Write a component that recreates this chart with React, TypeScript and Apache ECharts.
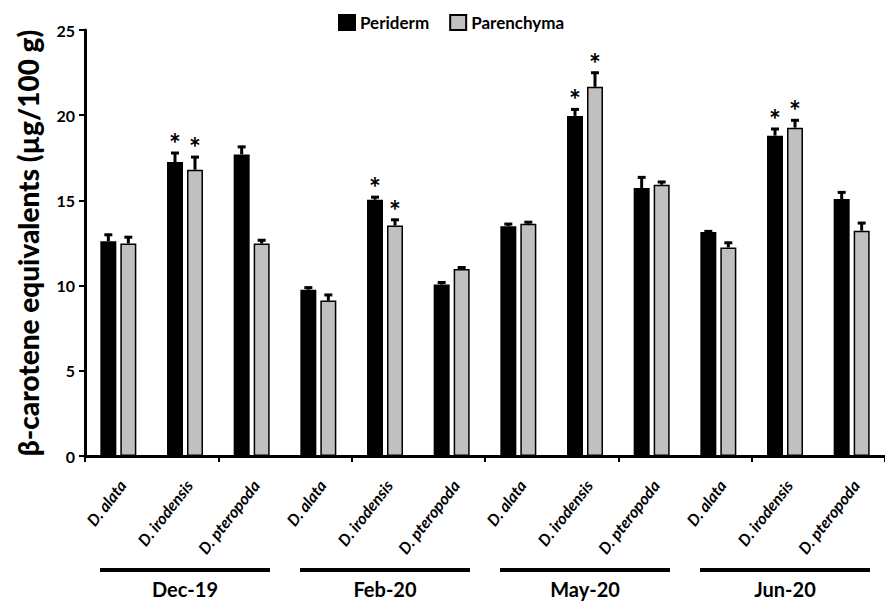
import React, { useEffect, useRef } from "react";
import * as echarts from "echarts";

const months = ["Dec-19", "Feb-20", "May-20", "Jun-20"];
const species = ["D. alata", "D. irodensis", "D. pteropoda"];
const yTicks = { min: 0, max: 25, interval: 5 };

const peridermValues = [12.6, 17.25, 17.7, 9.76, 15.04, 10.06, 13.49, 19.96, 15.73, 13.14, 18.8, 15.08];
const peridermErrors = [0.44, 0.59, 0.5, 0.18, 0.21, 0.18, 0.18, 0.44, 0.68, 0.1, 0.45, 0.45];
const parenchymaValues = [12.47, 16.8, 12.47, 9.12, 13.53, 10.98, 13.63, 21.67, 15.92, 12.24, 19.27, 13.22];
const parenchymaErrors = [0.43, 0.8, 0.25, 0.39, 0.39, 0.14, 0.15, 0.88, 0.22, 0.33, 0.49, 0.51];
const peridermSignificant = [0, 1, 0, 0, 1, 0, 0, 1, 0, 0, 1, 0];
const parenchymaSignificant = [0, 1, 0, 0, 1, 0, 0, 1, 0, 0, 1, 0];

const FONT = "Lato";

function errorSeries(values: number[], errors: number[], sig: number[], side: number) {
  return {
    type: "custom",
    xAxisIndex: 0,
    yAxisIndex: 0,
    z: 5,
    silent: true,
    data: values.map((v, i) => [i, v, errors[i], sig[i]]),
    encode: { x: 0, y: 1 },
    renderItem: (params: any, api: any) => {
      const idx = api.value(0);
      const v = api.value(1);
      const e = api.value(2);
      const s = api.value(3);
      const base = api.coord([idx, v]);
      const top = api.coord([idx, v + e]);
      const band = api.size([1, 0])[0];
      const x = base[0] + side * 0.15 * band;
      const children: any[] = [
        {
          type: "line",
          shape: { x1: x, y1: base[1], x2: x, y2: top[1] },
          style: { stroke: "#000", lineWidth: 3 },
        },
        {
          type: "line",
          shape: { x1: x - 4, y1: top[1] + 1, x2: x + 4, y2: top[1] + 1 },
          style: { stroke: "#000", lineWidth: 3 },
        },
      ];
      if (s) {
        children.push({
          type: "text",
          x: x,
          y: top[1] + 5,
          style: {
            text: "*",
            fontSize: 28,
            fontWeight: "bold",
            fontFamily: FONT,
            fill: "#000",
            align: "center",
            verticalAlign: "bottom",
          },
        });
      }
      return { type: "group", children };
    },
  };
}

export default function App() {
  const ref = useRef<HTMLDivElement>(null);
  useEffect(() => {
    if (!ref.current) return;
    const chart = echarts.init(ref.current, null, { renderer: "svg" });
    const categories = months.flatMap(() => species);
    const option: any = {
      animation: false,
      backgroundColor: "#fff",
      textStyle: { fontFamily: FONT },
      legend: {
        top: 9,
        left: 333,
        icon: "rect",
        itemWidth: 16,
        itemHeight: 15,
        itemGap: 20,
        textStyle: { fontSize: 17, fontWeight: "bold", color: "#000", fontFamily: FONT },
        data: ["Periderm", "Parenchyma"],
      },
      grid: { left: 85, top: 30, right: -6.5, bottom: 146, containLabel: false },
      xAxis: [
        {
          type: "category",
          data: categories,
          axisLine: { lineStyle: { color: "#000", width: 3 } },
          axisTick: { show: true, length: 6, lineStyle: { color: "#000", width: 2 } },
          axisLabel: { show: false },
        },
        {
          type: "category",
          data: months,
          position: "bottom",
          offset: 116,
          axisLine: { show: false },
          axisTick: { show: false },
          axisLabel: { margin: 7, color: "#000", fontSize: 20, fontWeight: "bold", fontFamily: FONT },
        },
      ],
      yAxis: {
        type: "value",
        min: yTicks.min,
        max: yTicks.max,
        interval: yTicks.interval,
        name: "β-carotene equivalents (µg/100 g)",
        nameLocation: "middle",
        nameGap: 43,
        nameTextStyle: { fontSize: 28, fontWeight: 900, color: "#000", fontFamily: FONT },
        axisLine: { show: true, lineStyle: { color: "#000", width: 3 } },
        axisTick: { show: true, length: 6, lineStyle: { color: "#000", width: 2 } },
        axisLabel: { color: "#000", fontSize: 16, fontWeight: "bold", margin: 10, fontFamily: FONT },
        splitLine: { show: false },
      },
      series: [
        {
          name: "Periderm",
          type: "bar",
          barWidth: "24%",
          barGap: "25%",
          data: peridermValues,
          itemStyle: { color: "#000", borderColor: "#000", borderWidth: 1.5 },
        },
        {
          name: "Parenchyma",
          type: "bar",
          barWidth: "24%",
          barGap: "25%",
          data: parenchymaValues,
          itemStyle: { color: "#c0c0c0", borderColor: "#000", borderWidth: 1.5 },
        },
        errorSeries(peridermValues, peridermErrors, peridermSignificant, -1),
        errorSeries(parenchymaValues, parenchymaErrors, parenchymaSignificant, 1),
      ],
    };
    chart.setOption(option);

    const px = (i: number) => chart.convertToPixel({ xAxisIndex: 0 }, i) as number;
    const band = px(1) - px(0);
    const y0 = chart.convertToPixel({ yAxisIndex: 0 }, 0) as number;
    const inset = 15;
    const lines = months.map((m, g) => ({
      type: "line",
      silent: true,
      shape: {
        x1: px(3 * g) - band / 2 + inset,
        y1: y0 + 114,
        x2: px(3 * g + 2) + band / 2 - inset,
        y2: y0 + 114,
      },
      style: { stroke: "#000", lineWidth: 4 },
    }));
    const labels = categories.map((c, i) => ({
      type: "text",
      silent: true,
      x: px(i) + 4,
      y: y0 + 26,
      rotation: (52 * Math.PI) / 180,
      style: {
        text: c,
        align: "right",
        verticalAlign: "middle",
        fontSize: 16,
        fontWeight: "bold",
        fontStyle: "italic",
        fontFamily: FONT,
        fill: "#000",
      },
    }));
    chart.setOption({ graphic: [...lines, ...labels] });
    return () => chart.dispose();
  }, []);
  return (
    <div
      ref={ref}
      style={{ position: "fixed", left: 0, top: 0, width: 885, height: 602, background: "#fff" }}
    />
  );
}
